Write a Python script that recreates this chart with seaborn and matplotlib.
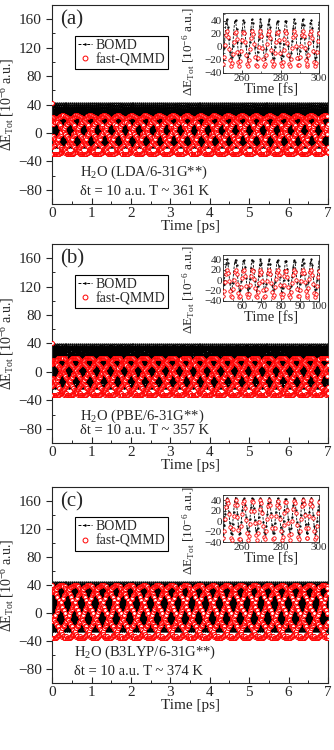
import numpy as np
import pandas as pd
import matplotlib
matplotlib.use("Agg")
import matplotlib.pyplot as plt
import seaborn as sns
from matplotlib.lines import Line2D
from matplotlib.ticker import MultipleLocator

# inset windows, sampled every 0.5 fs (values in 1e-6 a.u.)
inset_t0 = [250, 50, 250]
inset_step = 0.5

bomd_a = [-18, -2, 18, 36, 43, 31, 12, -8, -19,
          -15, 2, 22, 39, 41, 27, 7, -12, -20,
          -12, 6, 26, 41, 38, 22, 2, -15, -21, -10,
          8, 28, 42, 37, 20, 0, -16, -20, -8,
          12, 31, 43, 34, 16, -4, -18, -19, -4,
          16, 35, 42, 30, 11, -9, -20, -17, 0,
          20, 38, 40, 26, 6, -13, -21, -14, 4, 24,
          40, 39, 22, 2, -15, -20, -10, 9, 29,
          42, 36, 18, -2, -18, -19, -6, 14, 33,
          43, 33, 13, -6, -19, -18, -2, 18, 36,
          41, 29, 9, -10, -20, -15, 1, 22, 38]
qmmd_a = [-27, -15, 3, 18, 24, 15, -3, -20, -29,
          -25, -11, 7, 21, 23, 12, -8, -23, -30,
          -22, -7, 11, 23, 21, 7, -12, -26, -30, -20,
          -4, 14, 24, 19, 4, -15, -28, -29, -17,
          0, 17, 25, 16, -1, -19, -29, -27, -13,
          4, 20, 24, 13, -5, -22, -30, -26, -9,
          7, 22, 23, 10, -9, -25, -30, -23, -5, 12,
          24, 21, 6, -13, -27, -29, -19, -1, 15,
          25, 18, 2, -17, -28, -28, -15, 2, 18,
          25, 16, -2, -20, -29, -27, -12, 6, 20,
          24, 13, -6, -23, -30, -24, -8, 9, 22]

bomd_b = [-20, -8, 12, 30, 40, 33, 14, -6, -19,
          -21, -5, 16, 34, 39, 29, 9, -10, -21,
          -19, -1, 20, 37, 38, 25, 4, -14, -22, -16,
          3, 24, 39, 36, 20, -1, -17, -22, -12,
          7, 28, 40, 33, 15, -5, -19, -20, -8,
          11, 31, 40, 30, 11, -9, -21, -18, -3,
          15, 34, 39, 26, 6, -13, -22, -15, 1, 20,
          37, 37, 21, 1, -16, -22, -11, 6, 25,
          39, 35, 17, -3, -19, -21, -7, 10, 29,
          40, 32, 12, -7, -20, -19, -3, 15, 32,
          40, 28, 8, -11, -22, -17, 1, 20, 36]
qmmd_b = [-30, -20, -3, 12, 20, 14, -2, -20, -31,
          -32, -17, 0, 15, 20, 11, -7, -24, -33,
          -30, -13, 4, 17, 19, 7, -11, -27, -33, -26,
          -9, 8, 19, 17, 3, -15, -30, -32, -22,
          -5, 11, 20, 15, -1, -19, -32, -31, -18,
          -1, 14, 20, 12, -5, -23, -33, -29, -14,
          3, 16, 19, 9, -9, -26, -33, -27, -10, 7,
          18, 18, 5, -13, -29, -32, -23, -6, 10,
          20, 16, 1, -17, -31, -31, -19, -2, 13,
          20, 13, -3, -21, -32, -29, -15, 2, 16,
          20, 10, -7, -25, -33, -27, -11, 5, 18]

bomd_c = [-24, -8, 14, 34, 45, 38, 18, -4, -22,
          -25, -5, 18, 38, 45, 34, 13, -9, -24,
          -23, -1, 22, 41, 44, 30, 8, -13, -25, -18,
          4, 27, 44, 42, 25, 3, -17, -25, -13,
          8, 31, 45, 39, 20, -2, -20, -24, -9,
          13, 35, 45, 36, 15, -7, -23, -22, -4,
          18, 38, 44, 32, 10, -11, -25, -19, 0, 22,
          42, 42, 26, 4, -16, -25, -14, 7, 30,
          44, 40, 21, -1, -20, -24, -9, 12, 34,
          45, 37, 16, -6, -23, -22, -5, 17, 38,
          45, 33, 11, -10, -25, -19, 0, 22, 41]
qmmd_c = [-33, -18, 5, 27, 40, 34, 13, -12, -32,
          -36, -15, 9, 31, 40, 30, 8, -17, -34,
          -34, -10, 14, 35, 39, 26, 2, -22, -36, -28,
          -6, 19, 38, 37, 20, -4, -27, -36, -23,
          -1, 24, 40, 34, 15, -9, -31, -35, -18,
          4, 28, 40, 31, 10, -14, -34, -33, -13,
          9, 31, 39, 27, 5, -19, -36, -30, -8, 15,
          36, 37, 21, -3, -26, -36, -24, 0, 23,
          39, 35, 16, -8, -30, -35, -19, 5, 28,
          40, 32, 11, -13, -33, -33, -14, 10, 32,
          40, 28, 6, -18, -35, -30, -9, 15, 36]

# first fast-QMMD point at t = 0
qmmd_start = [42, 40, 40]

panel_labels = ["(a)", "(b)", "(c)"]
method_text = ["H$_2$O (LDA/6-31G**)", "H$_2$O (PBE/6-31G**)", "H$_2$O (B3LYP/6-31G**)"]
temp_text = ["\u03b4t = 10 a.u. T ~ 361 K", "\u03b4t = 10 a.u. T ~ 357 K", "\u03b4t = 10 a.u. T ~ 374 K"]
inset_xticks = [[260, 280, 300], [60, 70, 80, 90, 100], [260, 280, 300]]

sns.set_style("ticks")
plt.rcParams["font.family"] = ["Liberation Serif", "DejaVu Serif"]
plt.rcParams["mathtext.fontset"] = "custom"
plt.rcParams["mathtext.rm"] = "Liberation Serif"
plt.rcParams["mathtext.it"] = "Liberation Serif:italic"
plt.rcParams["axes.linewidth"] = 0.8

ylab = "\u0394E$_{\\rm Tot}$ [10$^{-6}$ a.u.]"

fig = plt.figure(figsize=(3.34, 7.5), dpi=100)
main_pos = [[0.156, 0.728, 0.826, 0.2653],
            [0.156, 0.4093, 0.826, 0.2654],
            [0.156, 0.0893, 0.826, 0.2614]]
inset_pos = [[0.668, 0.9027, 0.287, 0.080],
             [0.668, 0.5987, 0.287, 0.0613],
             [0.668, 0.2773, 0.287, 0.0627]]
inset_ylab_y = [0.36, 0.26, 0.25]
text_x = [0.71, 0.71, 0.55]
text_y = [(-56, -82), (-62, -83), (-56, -83)]
inset_ylim = [(-40, 52), (-40, 48), (-40, 50)]
dash = (0, (3, 1.5))

series = [(bomd_a, qmmd_a), (bomd_b, qmmd_b), (bomd_c, qmmd_c)]

for i, (bomd, qmmd) in enumerate(series):
    n = len(bomd)
    t_in = inset_t0[i] + inset_step * np.arange(n)
    df_in = pd.DataFrame({"t": t_in, "bomd": bomd, "qmmd": qmmd})

    # whole 7 ps trace: the sampled window repeated along the run
    reps = int(7000 / (inset_step * (n - 1))) + 1
    b_full = np.tile(bomd[:-1], reps)
    q_full = np.tile(qmmd[:-1], reps)
    q_full[0] = qmmd_start[i]
    t_full = inset_step * np.arange(len(b_full)) / 1000.0
    df = pd.DataFrame({"t": t_full, "bomd": b_full, "qmmd": q_full})
    df = df[df["t"] <= 7.0]
    df_b = df.iloc[::5]
    df_q = df.iloc[::7]

    ax = fig.add_axes(main_pos[i])
    ax.plot(df_b["t"], df_b["bomd"], color="black", lw=0.5, ls=dash,
            marker=".", ms=1.2, zorder=2)
    sns.scatterplot(data=df_q, x="t", y="qmmd", ax=ax, marker="o", s=8,
                    facecolor="white", edgecolor="red", linewidth=0.75, zorder=3)
    ax.set_xlim(0, 7)
    ax.set_ylim(-100, 180)
    ax.set_yticks(range(-80, 161, 40))
    ax.set_xticks(range(0, 8))
    ax.xaxis.set_minor_locator(MultipleLocator(0.5))
    ax.yaxis.set_minor_locator(MultipleLocator(20))
    ax.tick_params(axis="both", which="major", labelsize=11, length=4, width=0.8)
    ax.tick_params(axis="x", which="both", direction="in")
    ax.tick_params(axis="y", which="major", direction="out")
    ax.tick_params(axis="y", which="minor", direction="in")
    ax.tick_params(which="minor", length=2.5, width=0.7)
    ax.tick_params(axis="x", pad=2)
    ax.set_xlabel("Time [ps]", fontsize=11, labelpad=0)
    ax.set_ylabel(ylab, fontsize=10, labelpad=1)
    ax.text(0.03, 0.925, panel_labels[i], transform=ax.transAxes,
            fontsize=15, va="center", ha="left")
    ax.text(text_x[i], text_y[i][0], method_text[i], fontsize=10.5, va="center")
    ax.text(text_x[i], text_y[i][1], temp_text[i], fontsize=10.5, va="center")

    handles = [Line2D([], [], color="black", lw=0.7, ls=dash, marker=".", ms=1.5),
               Line2D([], [], ls="none", marker="o", ms=3.5, mfc="white", mec="red", mew=0.7)]
    leg = ax.legend(handles, ["BOMD", "fast-QMMD"], loc="upper left",
                    bbox_to_anchor=(0.083, 0.845), borderaxespad=0, fontsize=10,
                    fancybox=False, edgecolor="black", framealpha=1,
                    handlelength=1.0, handletextpad=0.3, borderpad=0.2,
                    labelspacing=0.1)
    leg.get_frame().set_linewidth(0.8)

    axi = fig.add_axes(inset_pos[i])
    axi.plot(df_in["t"], df_in["bomd"], color="black", lw=0.6, ls=dash,
             marker=".", ms=1.2, zorder=2)
    sns.scatterplot(data=df_in, x="t", y="qmmd", ax=axi, marker="o", s=6,
                    facecolor="white", edgecolor="red", linewidth=0.6, zorder=3)
    axi.set_xlim(inset_t0[i], inset_t0[i] + 50)
    axi.set_ylim(*inset_ylim[i])
    axi.set_yticks([-40, -20, 0, 20, 40])
    axi.set_xticks(inset_xticks[i])
    axi.xaxis.set_minor_locator(MultipleLocator(10 if i != 1 else 5))
    axi.yaxis.set_minor_locator(MultipleLocator(10))
    axi.tick_params(axis="both", which="major", labelsize=8, length=2.5,
                    width=0.6, direction="in", pad=1)
    axi.tick_params(which="minor", length=1.5, width=0.5, direction="in")
    axi.set_xlabel("Time [fs]", fontsize=10.5, labelpad=0)
    axi.set_ylabel(ylab, fontsize=9.5)
    axi.yaxis.set_label_coords(-0.27, inset_ylab_y[i])
    for s in axi.spines.values():
        s.set_linewidth(0.6)

fig.savefig("out.png", dpi=100)
